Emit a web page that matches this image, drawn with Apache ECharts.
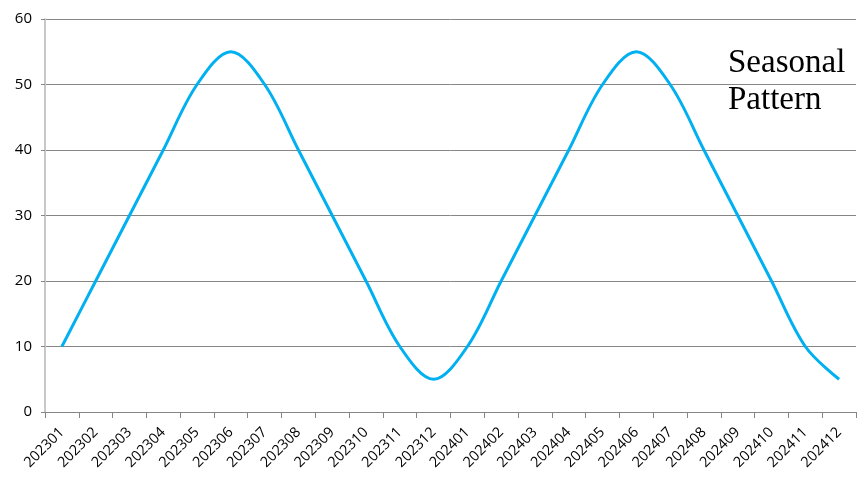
<!DOCTYPE html>
<html>
<head>
<meta charset="utf-8">
<script src="https://cdn.jsdelivr.net/npm/echarts@6/dist/echarts.min.js"></script>
<style>
  html, body { margin: 0; padding: 0; background: #fff; }
  #chart { width: 865px; height: 486px; }
</style>
</head>
<body>
<div id="chart"></div>
<script>
// 月份
var months = [
  "202301", "202302", "202303", "202304", "202305", "202306",
  "202307", "202308", "202309", "202310", "202311", "202312",
  "202401", "202402", "202403", "202404", "202405", "202406",
  "202407", "202408", "202409", "202410", "202411", "202412"
];
// 数值
var values = [
  10, 20, 30, 40, 50, 55, 50, 40, 30, 20, 10, 5,
  10, 20, 30, 40, 50, 55, 50, 40, 30, 20, 10, 5
];
var yTicks = [0, 10, 20, 30, 40, 50, 60];

var myChart = echarts.init(document.getElementById("chart"));
var option = {
  animation: false,
  grid: {
    left: 45,
    right: 9,
    top: 19,
    bottom: 74,
    containLabel: false,
  },
  xAxis: {
    type: "category",
    data: months,
    boundaryGap: true,
    axisLine: { lineStyle: { color: "#868686", width: 1 } },
    axisTick: { show: true, length: 6, lineStyle: { color: "#868686" } },
    axisLabel: {
      rotate: 45,
      interval: 0,
      color: "#000",
      fontSize: 14.5,
      fontFamily: "Open Sans",
      margin: 18,
    },
  },
  yAxis: {
    type: "value",
    min: yTicks[0],
    max: yTicks[yTicks.length - 1],
    interval: 10,
    axisLine: { show: true, lineStyle: { color: "#c8c8c8", width: 2 } },
    axisTick: { show: true, length: 4, lineStyle: { color: "#868686" } },
    axisLabel: {
      color: "#000",
      fontSize: 15,
      fontFamily: "Open Sans",
      margin: 13,
    },
    splitLine: {
      show: true,
      lineStyle: { color: "#868686", width: 1, type: "solid" },
    },
  },
  series: [
    {
      type: "line",
      data: values,
      smooth: 0.35,
      symbol: "none",
      lineStyle: { color: "#00b0f0", width: 3 },
    },
  ],
  graphic: [
    {
      type: "text",
      left: 728,
      top: 45,
      style: {
        text: "Seasonal\nPattern",
        fill: "#000",
        font: "33px 'Liberation Serif'",
        lineHeight: 37,
      },
    },
  ],
};
myChart.setOption(option);
</script>
</body>
</html>
